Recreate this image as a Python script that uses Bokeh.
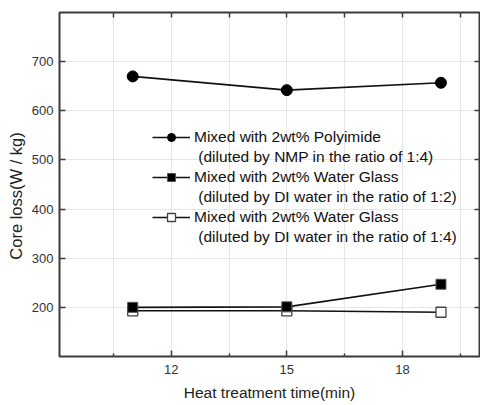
from bokeh.plotting import figure
from bokeh.models import Range1d, FixedTicker, LinearAxis, Legend, LegendItem
from bokeh.embed import file_html
from bokeh.resources import INLINE

# ---- data ----
time_min = [11, 15, 19]
polyimide_1_4 = [670, 642, 657]
water_glass_1_2 = [200, 201, 247]
water_glass_1_4 = [193, 193, 190]

x_major_ticks = [12, 15, 18]
x_minor_ticks = [10.5, 13.5, 16.5, 19.5]
y_major_ticks = [200, 300, 400, 500, 600, 700]

series_names = [
    ("Mixed with 2wt% Polyimide", "\u00a0(diluted by NMP in the ratio of 1:4)"),
    ("Mixed with 2wt% Water Glass", "\u00a0(diluted by DI water in the ratio of 1:2)"),
    ("Mixed with 2wt% Water Glass", "\u00a0(diluted by DI water in the ratio of 1:4)"),
]

FONT = "Liberation Sans"
INK = "#111111"
FRAME = "#3a3a3a"
GRID = "#e6e6e6"

p = figure(
    width=480, height=405,
    x_range=Range1d(9.1, 20), y_range=Range1d(100, 800),
    output_backend="svg", toolbar_location=None,
    min_border_left=59, min_border_right=1, min_border_top=12, min_border_bottom=49,
    background_fill_color="white", border_fill_color="white",
)
p.outline_line_color = FRAME
p.outline_line_width = 2

xt = FixedTicker(ticks=x_major_ticks, minor_ticks=x_minor_ticks)
yt = FixedTicker(ticks=y_major_ticks, minor_ticks=[])

for ax in p.xaxis + p.yaxis:
    ax.axis_line_color = None
    ax.major_tick_in = 6
    ax.major_tick_out = 0
    ax.minor_tick_in = 3
    ax.minor_tick_out = 0
    ax.major_tick_line_color = FRAME
    ax.minor_tick_line_color = FRAME
    ax.major_tick_line_width = 1.5
    ax.minor_tick_line_width = 1.5
    ax.major_label_text_font = FONT
    ax.major_label_text_font_size = "13px"
    ax.major_label_text_color = "#333333"
    ax.axis_label_text_font = FONT
    ax.axis_label_text_font_style = "normal"
    ax.axis_label_text_color = "#222222"

p.xaxis.axis_label_text_font_size = "15.5px"
p.yaxis.axis_label_text_font_size = "16.5px"
p.xaxis.ticker = xt
p.yaxis.ticker = yt
p.xaxis.axis_label = "Heat treatment time(min)"
p.yaxis.axis_label = "Core loss(W / kg)" + "\u00a0" * 5
p.xaxis.major_label_standoff = 8
p.xaxis.axis_label_standoff = 7
p.yaxis.major_label_standoff = 6
p.yaxis.axis_label_standoff = 4

# mirrored top / right axes (ticks only, no labels)
top_ax = LinearAxis(ticker=xt)
right_ax = LinearAxis(ticker=yt)
for ax in (top_ax, right_ax):
    ax.axis_line_color = None
    ax.major_tick_in = 5
    ax.major_tick_out = 0
    ax.minor_tick_in = 5
    ax.minor_tick_out = 0
    ax.major_tick_line_color = FRAME
    ax.minor_tick_line_color = FRAME
    ax.major_tick_line_width = 1.5
    ax.minor_tick_line_width = 1.5
    ax.major_label_text_font_size = "0px"
    ax.major_label_text_color = None
    ax.major_label_text_alpha = 0
    ax.major_label_standoff = 0
p.add_layout(top_ax, "above")
p.add_layout(right_ax, "right")

p.xgrid.ticker = xt
p.ygrid.ticker = yt
p.xgrid.grid_line_color = GRID
p.xgrid.minor_grid_line_color = GRID
p.ygrid.grid_line_color = GRID

# ---- series ----
l3 = p.line(time_min, water_glass_1_4, line_color=INK, line_width=1.6)
l2 = p.line(time_min, water_glass_1_2, line_color=INK, line_width=1.6)
l1 = p.line(time_min, polyimide_1_4, line_color=INK, line_width=1.6)
m3 = p.scatter(time_min, water_glass_1_4, marker="square", size=10,
               fill_color="white", line_color="#444444", line_width=1.3)
m2 = p.scatter(time_min, water_glass_1_2, marker="square", size=10,
               fill_color="black", line_color="#555555", line_width=1)
m1 = p.scatter(time_min, polyimide_1_4, marker="circle", size=11,
               fill_color="black", line_color="black")

# invisible renderers carrying the second legend lines
blanks = [p.line([float("nan")], [float("nan")], line_alpha=0) for _ in range(3)]

items = []
for (first, second), rends, blank in zip(series_names, [[l1, m1], [l2, m2], [l3, m3]], blanks):
    items.append(LegendItem(label=first, renderers=rends))
    items.append(LegendItem(label=second, renderers=[blank]))

legend = Legend(
    items=items, location=(93, 109),
    border_line_color=None, background_fill_alpha=0,
    padding=0, margin=0, spacing=0,
    glyph_width=38, glyph_height=20, label_height=19,
    label_standoff=4,
    label_text_font=FONT, label_text_font_size="15.5px", label_text_color="#111111",
)
p.add_layout(legend, "center")

open("out.html", "w").write(file_html(p, INLINE))
